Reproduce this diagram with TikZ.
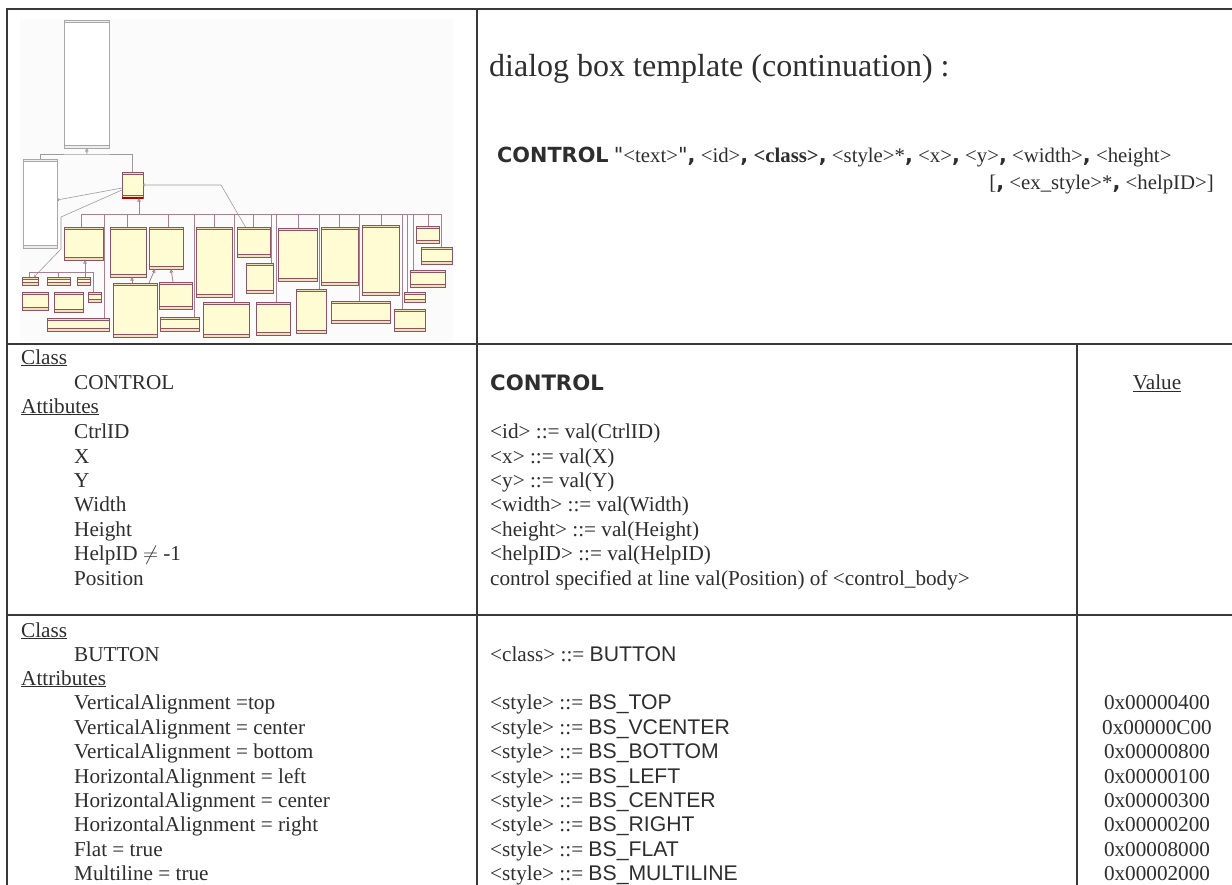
\documentclass[tikz,border=0pt]{standalone}
\usepackage{fontspec}
\setmainfont{Liberation Serif}
\newfontfamily\kwfont{DejaVu Sans}
\newfontfamily\constfont{Liberation Sans}
\usetikzlibrary{arrows.meta,fit}

\definecolor{ink}{HTML}{2E2E2E}
\definecolor{rulec}{HTML}{383838}
\definecolor{noteY}{HTML}{FFFBD2}
\definecolor{bandY}{HTML}{F0E0BA}
\definecolor{edgeM}{HTML}{8E5464}
\definecolor{linkM}{HTML}{A9808F}
\definecolor{linkG}{HTML}{9C9C9C}
\definecolor{edgeG}{HTML}{A8A8A8}
\definecolor{bandG}{HTML}{EEEEEE}

\newcommand\kw[1]{{\kwfont\bfseries #1}}
\newcommand\bc{{\kwfont\bfseries ,}}
\newcommand\cst[1]{{\constfont #1}}
\newcommand\sq{{\kwfont\symbol{34}}}

% yellow UML class box: name, x1, y1, x2, y2
\newcommand\ubox[5]{%
  \node[classbox, fit={(#2,#3) (#4,#5)}] (#1) {};
  \fill[bandY] (#1.north west) rectangle ([yshift=-2.6pt]#1.north east);
  \fill[bandY] ([yshift=2.8pt]#1.south west) rectangle (#1.south east);
  \draw[edgeM, line width=0.45pt] ([yshift=-2.6pt]#1.north west) -- ([yshift=-2.6pt]#1.north east)
       ([yshift=2.8pt]#1.south west) -- ([yshift=2.8pt]#1.south east);
  \draw[edgeM, line width=0.8pt] (#1.north west) rectangle (#1.south east);
}
% white UML class box: name, x1, y1, x2, y2
\newcommand\wbox[5]{%
  \node[plainbox, fit={(#2,#3) (#4,#5)}] (#1) {};
  \fill[bandG] (#1.north west) rectangle ([yshift=-2.6pt]#1.north east);
  \fill[bandG] ([yshift=2.8pt]#1.south west) rectangle (#1.south east);
  \draw[edgeG, line width=0.45pt] ([yshift=-2.6pt]#1.north west) -- ([yshift=-2.6pt]#1.north east)
       ([yshift=2.8pt]#1.south west) -- ([yshift=2.8pt]#1.south east);
  \draw[edgeG, line width=0.8pt] (#1.north west) rectangle (#1.south east);
}

\begin{document}
\begin{tikzpicture}[x=1pt, y=-1pt,
  classbox/.style={inner sep=0pt, outer sep=0pt, fill=noteY},
  plainbox/.style={inner sep=0pt, outer sep=0pt, fill=white},
  txt/.style={anchor=base west, inner sep=0pt, text=ink, font=\fontsize{21.2}{24}\selectfont},
  syntxt/.style={txt, font=\fontsize{20.8}{24}\selectfont},
  valtxt/.style={txt, anchor=base},
  tablerule/.style={rulec, line width=1.8pt},
  busline/.style={linkM, line width=0.8pt},
  assoc/.style={linkG, line width=0.6pt, -{To[length=2.2pt,width=3pt]}},
  inherit/.style={line width=0.8pt, -{Triangle[open,length=3.6pt,width=3.6pt]}}
]
\useasboundingbox (0,0) rectangle (1232,885);
\fill[white] (0,0) rectangle (1232,885);

% ---------- class diagram overview ----------
\fill[white!98.5!black] (20,19) rectangle (453,341);

\wbox{T}{64}{20}{109}{148}
\wbox{L}{23}{159}{57}{248}
\ubox{C}{122}{172}{143}{198}
\draw[red!70!black, line width=1.2pt] (C.south west) -- (C.south east);

\ubox{b1}{64}{227}{103}{260}
\ubox{b2}{110}{227}{146}{277}
\ubox{b3}{149}{227}{183}{269}
\ubox{b4}{196}{227}{232}{297}
\ubox{b5}{237}{227}{270}{257}
\ubox{b6}{278}{228}{317}{281}
\ubox{b7}{321}{227}{358}{285}
\ubox{b8}{362}{225}{399}{295}
\ubox{b9}{416}{226}{439}{243}
\ubox{b10}{421}{247}{452}{264}
\ubox{b11}{410}{270}{445}{287}
\ubox{b12}{404}{292}{425}{302}
\ubox{b13}{394}{309}{425}{331}

\ubox{s1}{22}{277}{38}{285}
\ubox{s2}{47}{277}{70}{285}
\ubox{s3}{77}{277}{90}{285}
\ubox{s4}{88}{292}{101}{302}
\ubox{s5}{22}{292}{48}{310}
\ubox{s6}{54}{292}{83}{312}
\ubox{s7}{47}{318}{109}{331}

\ubox{u1}{113}{283}{157}{337}
\ubox{u2}{159}{282}{192}{309}
\ubox{u3}{160}{317}{199}{331}
\ubox{u4}{203}{302}{249}{337}
\ubox{u5}{246}{263}{273}{293}
\ubox{u6}{256}{302}{290}{335}
\ubox{u7}{296}{289}{326}{333}
\ubox{u8}{331}{301}{390}{323}

% upper hierarchy
\coordinate (top) at (87,154);
\draw[linkG, line width=0.6pt] (L.north) |- (top) -| (C.north);
\draw[linkG, inherit] (top) -- (T.south);

% associations
\draw[assoc] ([yshift=-3pt]C.west) -- ([yshift=3.5pt]L.east);
\draw[assoc] ([yshift=-5pt]C.west) -- (61,217) -- (61,249) -- ([xshift=4pt]s1.north);
\draw[assoc] ([xshift=-8pt]b5.north) -- (221,185) -- (C.east);

% main inheritance bus
\coordinate (busL) at (81,214);
\coordinate (busR) at (441,214);
\draw[busline] (busL) -- (busR);
\draw[linkM, inherit] (139,214) -- (139,214 |- C.south);
\foreach \x/\b in {81/b1,104/s7,127/b2,168/b3,194/u3,214/b4,234/u4,253/b5,271/u5,276/u6,298/b6,319/u7,339/b7,359/u8,381/b8,402/b13,407/b12,413/b11,428/b9,441/b10}
  \draw[busline] (\x,214) -- (\x,214 |- \b.north);

% sub-hierarchy below b1
\coordinate (subL) at (29,272);
\coordinate (subR) at (93,272);
\draw[busline] (subL) -- (subR);
\draw[linkM, inherit] (85,272) -- (85,272 |- b1.south);
\foreach \x/\b in {29/s1,58/s2,85/s3,93/s4}
  \draw[busline] (\x,272) -- (\x,272 |- \b.north);

% inheritance below b2 / b3
\draw[linkM, inherit] (132,0 |- u1.north) -- (132,0 |- b2.south);
\draw[linkM, inherit] (149,0 |- u1.north) -- (155,0 |- b3.south);
\draw[linkM, inherit] (173,0 |- u2.north) -- (171,0 |- b3.south);

% ---------- table rules ----------
\draw[tablerule] (6.1,9) -- (1232,9);
\draw[tablerule] (7,9) -- (7,885);
\draw[tablerule] (477,9) -- (477,885);
\draw[tablerule] (7,344) -- (1232,344);
\draw[tablerule] (7,615) -- (1232,615);
\draw[tablerule] (1077,344) -- (1077,885);

% ---------- header cell ----------
\node[txt, font=\fontsize{32}{36}\selectfont] (title) at (489,77) {dialog box template (continuation) :};
\node[syntxt] (syn1) at (497,163) {\kw{CONTROL} \sq<text>\sq\bc{} <id>\bc{} \textbf{<class>}\bc{} <style>*\bc{} <x>\bc{} <y>\bc{} <width>\bc{} <height>};
\node[syntxt, anchor=base east] (syn2) at (1214,190) {[\bc{} <ex\_style>*\bc{} <helpID>]};

% ---------- CONTROL row ----------
\node[txt] (l1) at (21,364) {\underline{Class}};
\node[txt] (l2) at (74,389) {CONTROL};
\node[txt] (l3) at (21,413) {\underline{Attibutes}};
\node[txt] (l4) at (74,438) {CtrlID};
\node[txt] (l5) at (74,463) {X};
\node[txt] (l6) at (74,487) {Y};
\node[txt] (l7) at (74,511) {Width};
\node[txt] (l8) at (74,536) {Height};
\node[txt] (l9) at (74,560) {HelpID $\neq$ -1};
\node[txt] (l10) at (74,585) {Position};

\node[txt] (m1) at (490,390) {\kw{CONTROL}};
\node[txt] (m2) at (490,438) {<id> ::= val(CtrlID)};
\node[txt] (m3) at (490,463) {<x> ::= val(X)};
\node[txt] (m4) at (490,487) {<y> ::= val(Y)};
\node[txt] (m5) at (490,511) {<width> ::= val(Width)};
\node[txt] (m6) at (490,536) {<height> ::= val(Height)};
\node[txt] (m7) at (490,560) {<helpID> ::= val(HelpID)};
\node[txt] (m8) at (490,585) {control specified at line val(Position) of <control\_body>};

\node[valtxt] (v0) at (1157,389) {\underline{Value}};

% ---------- BUTTON row ----------
\node[txt] (k1) at (21,637) {\underline{Class}};
\node[txt] (k2) at (74,661) {BUTTON};
\node[txt] (k3) at (21,685) {\underline{Attributes}};
\node[txt] (k4) at (74,709) {VerticalAlignment =top};
\node[txt] (k5) at (74,734) {VerticalAlignment = center};
\node[txt] (k6) at (74,758) {VerticalAlignment = bottom};
\node[txt] (k7) at (74,783) {HorizontalAlignment = left};
\node[txt] (k8) at (74,807) {HorizontalAlignment = center};
\node[txt] (k9) at (74,831) {HorizontalAlignment = right};
\node[txt] (k10) at (74,856) {Flat = true};
\node[txt] (k11) at (74,880) {Multiline = true};

\node[txt] (n1) at (490,661) {<class> ::= \cst{BUTTON}};
\node[txt] (n2) at (490,709) {<style> ::= \cst{BS\_TOP}};
\node[txt] (n3) at (490,734) {<style> ::= \cst{BS\_VCENTER}};
\node[txt] (n4) at (490,758) {<style> ::= \cst{BS\_BOTTOM}};
\node[txt] (n5) at (490,783) {<style> ::= \cst{BS\_LEFT}};
\node[txt] (n6) at (490,807) {<style> ::= \cst{BS\_CENTER}};
\node[txt] (n7) at (490,831) {<style> ::= \cst{BS\_RIGHT}};
\node[txt] (n8) at (490,856) {<style> ::= \cst{BS\_FLAT}};
\node[txt] (n9) at (490,880) {<style> ::= \cst{BS\_MULTILINE}};

\node[valtxt] (v1) at (1157,709) {0x00000400};
\node[valtxt] (v2) at (1157,734) {0x00000C00};
\node[valtxt] (v3) at (1157,758) {0x00000800};
\node[valtxt] (v4) at (1157,783) {0x00000100};
\node[valtxt] (v5) at (1157,807) {0x00000300};
\node[valtxt] (v6) at (1157,831) {0x00000200};
\node[valtxt] (v7) at (1157,856) {0x00008000};
\node[valtxt] (v8) at (1157,880) {0x00002000};
\end{tikzpicture}
\end{document}
